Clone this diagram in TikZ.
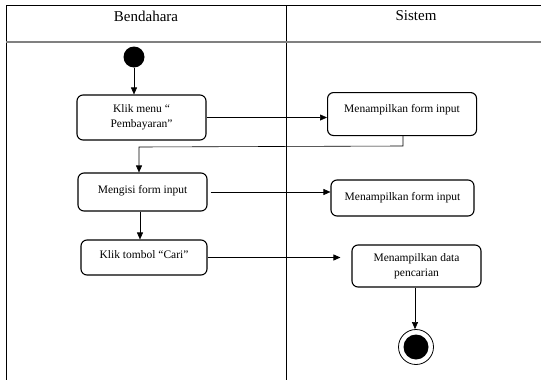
\documentclass[tikz,border=0pt]{standalone}
\usepackage{fontspec}
\setmainfont{Liberation Serif}
\usetikzlibrary{arrows.meta}
\begin{document}
\begin{tikzpicture}[x=1pt,y=-1pt,
  act/.style={draw,rounded corners=6pt,line width=1.1pt,align=center,font=\fontsize{11.5}{15}\selectfont,inner sep=0pt},
  flow/.style={-{Triangle[length=7pt,width=6pt]},line width=0.6pt},
  lane/.style={line width=0.8pt}]
\useasboundingbox (0,0) rectangle (541,380);
% swimlanes
\draw[lane] (6,380) -- (6,5) -- (541,5);
\draw[lane] (286,5) -- (286,380);
\draw[line width=1.4pt,gray] (6,42) -- (541,42);
\node[font=\fontsize{15}{17}\selectfont] (h1) at (146,16) {Bendahara};
\node[font=\fontsize{15}{17}\selectfont] (h2) at (416,16) {Sistem};
% nodes
\node[circle,fill=black,minimum size=21pt,inner sep=0pt] (start) at (134,57) {};
\node[act,minimum width=129pt,minimum height=45pt] (a1) at (141.5,117.5) {Klik menu “\\Pembayaran”};
\node[act,minimum width=149pt,minimum height=43pt,anchor=north west] (s1) at (327,92) {\raisebox{12pt}{Menampilkan form input}};
\node[act,minimum width=129pt,minimum height=38pt] (a2) at (142.5,192) {\raisebox{6pt}{Mengisi form input}};
\node[act,minimum width=143pt,minimum height=36pt] (s2) at (402.5,198) {Menampilkan form input};
\node[act,minimum width=126pt,minimum height=35pt] (a3) at (144,257.5) {\raisebox{5pt}{Klik tombol “Cari”}};
\node[act,minimum width=129pt,minimum height=42pt] (s3) at (416.5,266) {Menampilkan data\\pencarian};
\node[circle,draw,line width=0.8pt,minimum size=35pt,inner sep=0pt] (end) at (416,347) {};
\node[circle,fill=black,minimum size=25pt,inner sep=0pt] (endin) at (end.center) {};
% connectors
\draw[flow] (start) -- (a1.north -| start);
\draw[flow] (a1.east) -- (s1.west |- a1.east);
\coordinate (b1) at (403,146);
\coordinate (b2) at (139,147);
\draw[flow] (s1.south -| b1) -- (b1) -- (b2) -- (b2 |- a2.north);
\draw[flow] ([xshift=3pt]a2.east) -- (s2.west |- a2.east);
\draw[flow] (a2.south -| 140,0) -- (a3.north -| 140,0);
\draw[flow] (a3.east) -- ([xshift=-11pt]s3.west |- a3.east);
\draw[flow] (s3.south -| 415,0) -- (end.north -| 415,0);
\end{tikzpicture}
\end{document}
